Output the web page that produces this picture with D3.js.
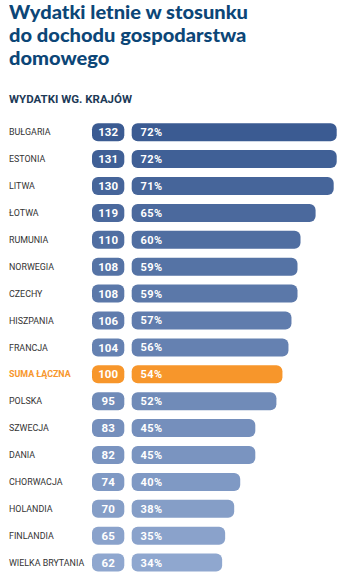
<!DOCTYPE html>
<html>
<head>
<meta charset="utf-8">
<script src="https://cdn.jsdelivr.net/npm/d3@7/dist/d3.min.js"></script>
<style>
  html, body { margin: 0; padding: 0; background: #ffffff; }
  #chart { position: relative; width: 341px; height: 579px; }
  #chart svg { position: absolute; left: 0; top: 0; display: block; }
  .title {
    position: absolute; left: 9px; top: 0.4px;
    font-family: Lato, "Open Sans", sans-serif; font-weight: 900;
    font-size: 19.2px; line-height: 23px; color: #0c4677;
    white-space: nowrap; transform-origin: 0 0;
  }
</style>
</head>
<body>
<div id="chart"></div>
<script>
// Summer spending relative to household income, by country
const titleLines = ["Wydatki letnie w stosunku", "do dochodu gospodarstwa", "domowego"];
const subtitle = "WYDATKI WG. KRAJÓW";
const categories = ["BUŁGARIA", "ESTONIA", "LITWA", "ŁOTWA", "RUMUNIA", "NORWEGIA", "CZECHY",
  "HISZPANIA", "FRANCJA", "SUMA ŁĄCZNA", "POLSKA", "SZWECJA", "DANIA", "CHORWACJA",
  "HOLANDIA", "FINLANDIA", "WIELKA BRYTANIA"];
const indexValues = [132, 131, 130, 119, 110, 108, 108, 106, 104, 100, 95, 83, 82, 74, 70, 65, 62];
const shareValues = [72, 72, 71, 65, 60, 59, 59, 57, 56, 54, 52, 45, 45, 40, 38, 35, 34];
const totalCategory = "SUMA ŁĄCZNA";

const W = 341, H = 579;
const root = d3.select("#chart");
const svg = root.append("svg").attr("width", W).attr("height", H);

const rows = categories.map((c, i) => ({ name: c, idx: indexValues[i], share: shareValues[i], i }));

// Title block (HTML lines, squeezed horizontally to a condensed width)
const title = root.append("div").attr("class", "title");
title.selectAll("div").data(titleLines).join("div").text(d => d);
const firstLine = title.select("div").node();
const range = document.createRange();
range.selectNodeContents(firstLine);
const naturalW = range.getBoundingClientRect().width;
title.style("transform", `scaleX(${239 / naturalW})`);

svg.append("text")
  .attr("x", 9).attr("y", 103)
  .attr("font-family", "Roboto, sans-serif")
  .attr("font-weight", 700)
  .attr("font-size", 10)
  .attr("fill", "#1d3a57")
  .attr("textLength", 123).attr("lengthAdjust", "spacingAndGlyphs")
  .text(subtitle);

// Scales
const y = d3.scaleBand()
  .domain(categories)
  .range([118.75, 118.75 + 17 * 26.9])
  .paddingInner(0.33)
  .paddingOuter(0.165);

const barX0 = 131.7;
const x = d3.scaleLinear().domain([4, 72]).range([0, 205]);

const shade = d3.scaleLinear()
  .domain([0, categories.length - 1])
  .range(["#3b5b92", "#8fa7cf"])
  .interpolate(d3.interpolateRgb);
const orange = "#f7962b";
const colorOf = d => d.name === totalCategory ? orange : shade(d.i);

const row = svg.append("g").selectAll("g").data(rows).join("g")
  .attr("transform", d => `translate(0,${y(d.name)})`);

const bh = y.bandwidth();

// Country labels
row.append("text")
  .attr("x", 9).attr("y", bh / 2).attr("dy", "0.36em")
  .attr("font-family", "Roboto, sans-serif")
  .attr("font-size", 8.9)
  .attr("font-weight", d => d.name === totalCategory ? 700 : 400)
  .attr("fill", d => d.name === totalCategory ? orange : "#333333")
  .text(d => d.name);

// Index badge
row.append("rect")
  .attr("x", 92).attr("y", 0)
  .attr("width", 32.3).attr("height", bh)
  .attr("rx", 6).attr("ry", 6)
  .attr("fill", colorOf);
row.append("text")
  .attr("x", 92 + 32.3 / 2).attr("y", bh / 2).attr("dy", "0.36em")
  .attr("text-anchor", "middle")
  .attr("font-family", "Roboto, sans-serif")
  .attr("font-weight", 700)
  .attr("font-size", 11.5)
  .attr("fill", "#ffffff")
  .text(d => d.idx);

// Share bar
row.append("rect")
  .attr("x", barX0).attr("y", 0)
  .attr("width", d => x(d.share)).attr("height", bh)
  .attr("rx", 6).attr("ry", 6)
  .attr("fill", colorOf);
row.append("text")
  .attr("x", 140.5).attr("y", bh / 2).attr("dy", "0.36em")
  .attr("font-family", "Roboto, sans-serif")
  .attr("font-weight", 700)
  .attr("font-size", 11)
  .attr("fill", "#ffffff")
  .attr("letter-spacing", 0.4)
  .text(d => d.share + "%");
</script>
</body>
</html>
